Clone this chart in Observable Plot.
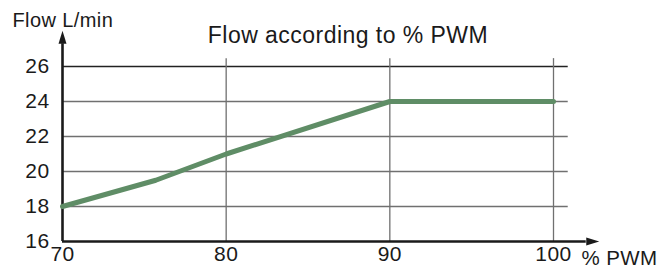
<!DOCTYPE html>
<html>
<head>
<meta charset="utf-8">
<script src="https://cdn.jsdelivr.net/npm/d3@7"></script>
<script src="https://cdn.jsdelivr.net/npm/@observablehq/plot@0.6"></script>
<style>
  html, body { margin: 0; padding: 0; background: #fff; }
  svg { display: block; }
</style>
</head>
<body>
<div id="chart"></div>
<script>
// Data
const pwm = [70, 75.7, 80, 90, 100];
const flow = [18, 19.5, 21, 24, 24];
const xTicks = [70, 80, 90, 100];
const yTicks = [16, 18, 20, 22, 24, 26];
const title = "Flow according to % PWM";
const yLabel = "Flow L/min";
const xLabel = "% PWM";

const data = pwm.map((p, i) => ({pwm: p, flow: flow[i]}));

const font = "'Liberation Sans', Arial, Helvetica, sans-serif";
const green = "#5f8d66";

// arrow head symbol: tip up, base at origin
const head = {
  draw(ctx) {
    ctx.moveTo(0, -13);
    ctx.lineTo(4, 0);
    ctx.lineTo(-4, 0);
    ctx.closePath();
  }
};

const chart = Plot.plot({
  width: 661,
  height: 270,
  marginLeft: 62,
  marginRight: 108,
  marginTop: 66,
  marginBottom: 29,
  style: {fontFamily: font, background: "#fff", overflow: "visible"},
  x: {domain: [70, 100]},
  y: {domain: [16, 26]},
  marks: [
    // horizontal grid
    Plot.ruleY(yTicks.filter(d => d > 16 && d < 26), {x1: 70, x2: 100.9, stroke: "#707070", strokeWidth: 1.3}),
    Plot.ruleY([26], {x1: 70, x2: 100.9, stroke: "#222", strokeWidth: 1.3}),
    // vertical grid
    Plot.ruleX(xTicks.filter(d => d > 70), {y1: 16, y2: 26.45, stroke: "#707070", strokeWidth: 1.3}),
    // axes
    Plot.ruleX([70], {y1: 16, y2: 27.3, stroke: "#1a1a1a", strokeWidth: 2.6}),
    Plot.ruleY([16], {x1: 70, x2: 102, stroke: "#1a1a1a", strokeWidth: 2.6}),
    Plot.dot([{x: 70, y: 27.3, r: 0}], {x: "x", y: "y", symbol: head, r: 5, fill: "#1a1a1a", stroke: "none"}),
    Plot.dot([{x: 102, y: 16, r: 90}], {x: "x", y: "y", symbol: head, r: 5, rotate: "r", fill: "#1a1a1a", stroke: "none"}),
    // data line
    Plot.line(data, {x: "pwm", y: "flow", stroke: green, strokeWidth: 5, strokeLinejoin: "miter"}),
    // tick labels
    Plot.axisY({ticks: yTicks, tickSize: 0, tickPadding: 13, fontSize: 21, label: null, tickFormat: d => d, color: "#1a1a1a"}),
    Plot.axisX({ticks: xTicks, tickSize: 0, tickPadding: 5, fontSize: 21, label: null, tickFormat: d => d, color: "#1a1a1a"}),
    // labels
    Plot.text([xLabel], {frameAnchor: "bottom-right", textAnchor: "start", dx: 28, dy: 23, fontSize: 20.5, fill: "#1a1a1a"}),
    Plot.text([yLabel], {frameAnchor: "top-left", textAnchor: "start", lineAnchor: "bottom", dx: -50, dy: -40, fontSize: 20, fill: "#1a1a1a"}),
    Plot.text([title], {frameAnchor: "top", lineAnchor: "bottom", dx: 40, dy: -24, fontSize: 23, fill: "#1a1a1a"})
  ]
});
d3.select(chart).selectAll("text").style("letter-spacing", "0.02em");
document.getElementById("chart").appendChild(chart);
</script>
</body>
</html>
